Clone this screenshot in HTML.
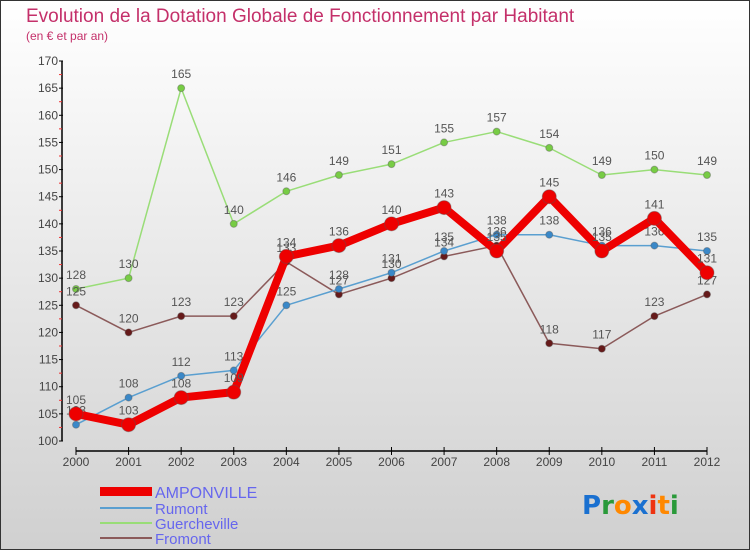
<!DOCTYPE html>
<html><head><meta charset="utf-8"><style>
body{margin:0}
#c{width:750px;height:550px;position:relative;overflow:hidden;background:linear-gradient(#ffffff,#d0d0d0);box-sizing:border-box;border:1px solid #333;font-family:"Liberation Sans",sans-serif}
</style></head><body>
<div id="c">
<svg id="s" width="750" height="550" style="position:absolute;left:-1px;top:-1px">
<text x="26" y="22" font-size="19" fill="#c4306a">Evolution de la Dotation Globale de Fonctionnement par Habitant</text>
<text x="26" y="40" font-size="12" fill="#c4306a">(en € et par an)</text>
<g id="axes"></g><g id="series"></g>
<g>
<rect x="100" y="487" width="52" height="9" fill="#e00"/>
<text x="155" y="498" font-size="16" fill="#6666ee">AMPONVILLE</text>
<line x1="100" y1="508" x2="152" y2="508" stroke="#5a9fd0" stroke-width="2"/>
<text x="155" y="514" font-size="15" fill="#6666ee">Rumont</text>
<line x1="100" y1="523" x2="152" y2="523" stroke="#99dd77" stroke-width="2"/>
<text x="155" y="529" font-size="15" fill="#6666ee">Guercheville</text>
<line x1="100" y1="538" x2="152" y2="538" stroke="#8b5a5a" stroke-width="2"/>
<text x="155" y="544" font-size="15" fill="#6666ee">Fromont</text>
</g>
<g font-size="26" font-family="'DejaVu Sans',sans-serif" font-weight="bold">
<text x="582" y="514"><tspan fill="#1a70d0">P</tspan><tspan fill="#2a9a3a">r</tspan><tspan fill="#ff8800">o</tspan><tspan fill="#1a70d0">x</tspan><tspan fill="#ee3311">i</tspan><tspan fill="#ff8800">t</tspan><tspan fill="#2a9a3a">i</tspan></text>
</g>
</svg>
</div>
<script>
const years=["2000","2001","2002","2003","2004","2005","2006","2007","2008","2009","2010","2011","2012"];
const yTicks=[100,105,110,115,120,125,130,135,140,145,150,155,160,165,170];
const amponville=[105,103,108,109,134,136,140,143,135,145,135,141,131];
const rumont=[103,108,112,113,125,128,131,135,138,138,136,136,135];
const guercheville=[128,130,165,140,146,149,151,155,157,154,149,150,149];
const fromont=[125,120,123,123,133,127,130,134,136,118,117,123,127];
const NS="http://www.w3.org/2000/svg";
function X(i){return 76+i*(631/12);}
function Y(v){return 441-(v-100)*380/70;}
function mk(tag,attrs,parent){const e=document.createElementNS(NS,tag);for(const k in attrs)e.setAttribute(k,attrs[k]);parent.appendChild(e);return e;}
const ax=document.getElementById('axes'),sr=document.getElementById('series');
let l=mk('line',{x1:62,y1:Y(170),x2:62,y2:Y(100),stroke:'#000','stroke-width':1.5},ax);


yTicks.forEach(v=>{
 mk('line',{x1:59,y1:Y(v),x2:63,y2:Y(v),stroke:'#000'},ax);
 if(v<170)mk('line',{x1:59,y1:Y(v+2.5),x2:62,y2:Y(v+2.5),stroke:'#e33'},ax);
 const t=mk('text',{x:58,y:Y(v)+4,'text-anchor':'end','font-size':12,fill:'#444'},ax);t.textContent=v;
 
 
});
l=mk('line',{x1:X(0),y1:451,x2:X(12),y2:451,stroke:'#000','stroke-width':1.5},ax);


years.forEach((y,i)=>{
 mk('line',{x1:X(i),y1:447,x2:X(i),y2:455,stroke:'#000'},ax);
 const t=mk('text',{x:X(i),y:466,'text-anchor':'middle','font-size':12,fill:'#444'},ax);t.textContent=y;
 
 
});
function draw(name,data,color,w,r,dot){
 const g=mk('g',{},sr);
 
 
 const p=mk('polyline',{points:data.map((v,i)=>X(i)+','+Y(v)).join(' '),fill:'none',stroke:color,'stroke-width':w,'stroke-linejoin':'round'},g);
 
 
 data.forEach((v,i)=>{
  const c=mk('circle',{cx:X(i),cy:Y(v),r:r,fill:dot,stroke:'#555','stroke-opacity':0.4},g);
  
  
  const t=mk('text',{x:X(i),y:Y(v)-10,'text-anchor':'middle','font-size':12,fill:'#555'},g);t.textContent=v;
  
  
 });
}
draw('guercheville',guercheville,'#99dd77',1.5,3.5,'#77cc44');
draw('fromont',fromont,'#8b5a5a',1.5,3.5,'#661a1a');
draw('rumont',rumont,'#5a9fd0',1.5,3.5,'#3a88c8');
draw('amponville',amponville,'#ee0000',8,7,'#e00');
</script>
</body></html>
